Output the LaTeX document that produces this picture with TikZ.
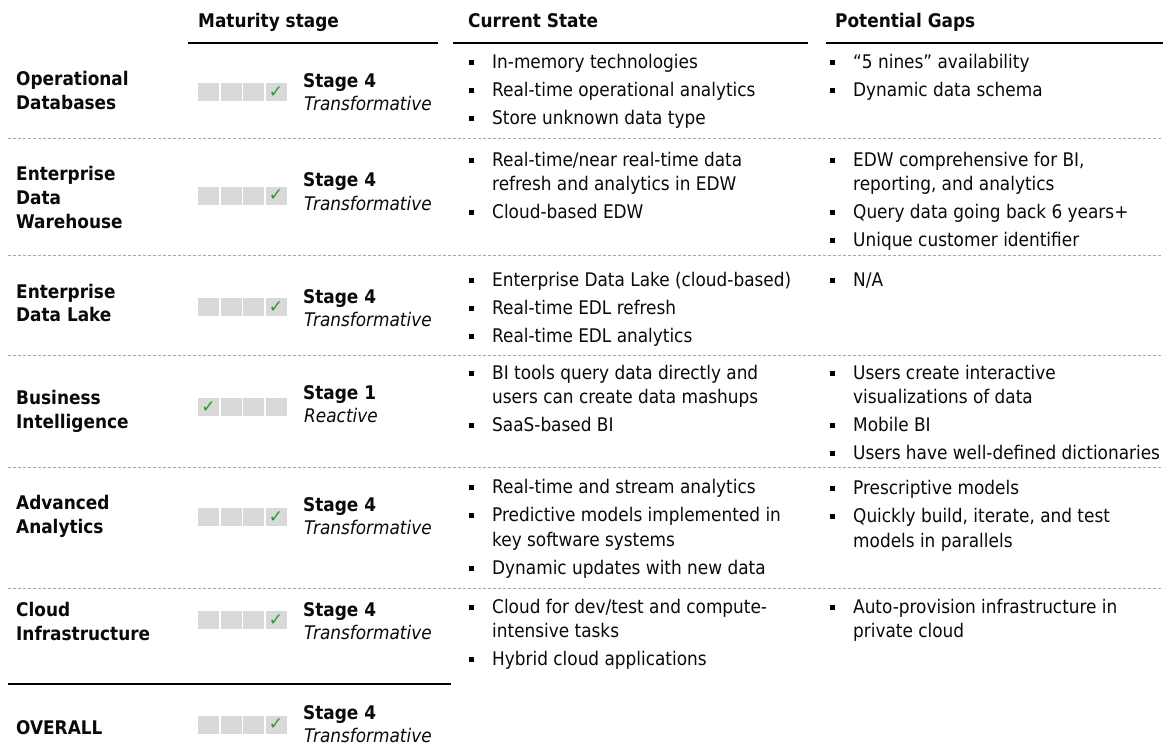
\documentclass[tikz,border=0pt]{standalone}
\usepackage{fontspec}
\setmainfont{DejaVu Sans Condensed}[BoldFont={DejaVu Sans Condensed Bold},ItalicFont={DejaVu Sans Condensed Oblique}]
\newfontfamily\symfont{DejaVu Sans}
\definecolor{sqgrey}{HTML}{D9D9D9}
\definecolor{chk}{HTML}{229A2E}
\definecolor{dashgrey}{HTML}{A6A6A6}
\definecolor{ink}{HTML}{0A0A0A}
\tikzset{
  txt/.style={anchor=base west, inner sep=0pt, text=ink, font=\fontsize{18.8}{22}\selectfont},
  boldtxt/.style={txt, font=\fontsize{18.8}{22}\selectfont\bfseries},
  italtxt/.style={txt, font=\fontsize{18.8}{22}\selectfont\itshape},
  bul/.style={fill=black, minimum size=5pt, inner sep=0pt},
  sqbox/.style={fill=sqgrey, minimum width=21pt, minimum height=18pt, inner sep=0pt, text=chk, font=\symfont\fontsize{17}{17}\selectfont},
  headrule/.style={line width=1.6pt, black},
  rowsep/.style={dashgrey, line width=0.9pt, dash pattern=on 3pt off 2pt},
}
\newcommand{\bitem}[4]{\node[bul] (#1b) at ({#2-21},{#3-6}) {}; \node[txt] (#1) at (#2,#3) {#4};}
\newcommand{\stagebar}[3]{%
  \foreach \i/\xx in {1/208.5,2/231,3/253.5,4/276} {\node[sqbox] (#1\i) at (\xx,#2) {\ifnum\i=#3 ✓\fi};}%
}
\begin{document}
\begin{tikzpicture}[x=1pt,y=-1pt]
\useasboundingbox[fill=white] (0,0) rectangle (1172,748);

% headers
\node[boldtxt] (hms) at (198,27) {Maturity stage};
\node[boldtxt] (hcs) at (468,27) {Current State};
\node[boldtxt] (hpg) at (835,27) {Potential Gaps};
\coordinate (hm1) at (188,43); \coordinate (hm2) at (438,43);
\coordinate (hc1) at (453,43); \coordinate (hc2) at (808,43);
\coordinate (hp1) at (826,43); \coordinate (hp2) at (1163,43);
\draw[headrule] (hm1) -- (hm2);
\draw[headrule] (hc1) -- (hc2);
\draw[headrule] (hp1) -- (hp2);

% separators
\foreach \yy/\nm in {138/a,255/b,355/c,467/d,588/e} {
  \coordinate (s\nm1) at (8,\yy); \coordinate (s\nm2) at (1163,\yy);
  \draw[rowsep] (s\nm1) -- (s\nm2);
}
\coordinate (ov1) at (8,684); \coordinate (ov2) at (451,684);
\draw[headrule] (ov1) -- (ov2);

% row labels
\node[boldtxt] (l1a) at (16,85) {Operational};
\node[boldtxt] (l1b) at (16,109) {Databases};
\node[boldtxt] (l2a) at (16,180) {Enterprise};
\node[boldtxt] (l2b) at (16,204) {Data};
\node[boldtxt] (l2c) at (16,228) {Warehouse};
\node[boldtxt] (l3a) at (16,298) {Enterprise};
\node[boldtxt] (l3b) at (16,321) {Data Lake};
\node[boldtxt] (l4a) at (16,404) {Business};
\node[boldtxt] (l4b) at (16,428) {Intelligence};
\node[boldtxt] (l5a) at (16,509) {Advanced};
\node[boldtxt] (l5b) at (16,533) {Analytics};
\node[boldtxt] (l6a) at (16,616) {Cloud};
\node[boldtxt] (l6b) at (16,640) {Infrastructure};
\node[boldtxt] (l7a) at (16,734) {OVERALL};

% maturity bars and stages
\stagebar{q1}{92}{4}
\node[boldtxt] (st1) at (303,87) {Stage 4};
\node[italtxt] (tr1) at (304,110) {Transformative};
\stagebar{q2}{195.5}{4}
\node[boldtxt] (st2) at (303,186) {Stage 4};
\node[italtxt] (tr2) at (304,210) {Transformative};
\stagebar{q3}{307}{4}
\node[boldtxt] (st3) at (303,303) {Stage 4};
\node[italtxt] (tr3) at (304,326) {Transformative};
\stagebar{q4}{407}{1}
\node[boldtxt] (st4) at (303,399) {Stage 1};
\node[italtxt] (tr4) at (304,422) {Reactive};
\stagebar{q5}{517}{4}
\node[boldtxt] (st5) at (303,511) {Stage 4};
\node[italtxt] (tr5) at (304,534) {Transformative};
\stagebar{q6}{620}{4}
\node[boldtxt] (st6) at (303,616) {Stage 4};
\node[italtxt] (tr6) at (304,639) {Transformative};
\stagebar{q7}{724.5}{4}
\node[boldtxt] (st7) at (303,719) {Stage 4};
\node[italtxt] (tr7) at (304,742) {Transformative};

% current state
\bitem{c11}{492}{68}{In-memory technologies}
\bitem{c12}{492}{96}{Real-time operational analytics}
\bitem{c13}{492}{124}{Store unknown data type}
\bitem{c21}{492}{166}{Real-time/near real-time data}
\node[txt] (c21x) at (492,190) {refresh and analytics in EDW};
\bitem{c22}{492}{218}{Cloud-based EDW}
\bitem{c31}{492}{286}{Enterprise Data Lake (cloud-based)}
\bitem{c32}{492}{314}{Real-time EDL refresh}
\bitem{c33}{492}{342}{Real-time EDL analytics}
\bitem{c41}{492}{379}{BI tools query data directly and}
\node[txt] (c41x) at (492,403) {users can create data mashups};
\bitem{c42}{492}{431}{SaaS-based BI}
\bitem{c51}{492}{493}{Real-time and stream analytics}
\bitem{c52}{492}{521}{Predictive models implemented in}
\node[txt] (c52x) at (492,546) {key software systems};
\bitem{c53}{492}{574}{Dynamic updates with new data}
\bitem{c61}{492}{613}{Cloud for dev/test and compute-}
\node[txt] (c61x) at (492,637) {intensive tasks};
\bitem{c62}{492}{665}{Hybrid cloud applications}

% potential gaps
\bitem{p11}{853}{68}{“5 nines” availability}
\bitem{p12}{853}{96}{Dynamic data schema}
\bitem{p21}{853}{166}{EDW comprehensive for BI,}
\node[txt] (p21x) at (853,190) {reporting, and analytics};
\bitem{p22}{853}{218}{Query data going back 6 years+}
\bitem{p23}{853}{246}{Unique customer identifier}
\bitem{p31}{853}{286}{N/A}
\bitem{p41}{853}{379}{Users create interactive}
\node[txt] (p41x) at (853,403) {visualizations of data};
\bitem{p42}{853}{431}{Mobile BI}
\bitem{p43}{853}{459}{Users have well-defined dictionaries}
\bitem{p51}{853}{494}{Prescriptive models}
\bitem{p52}{853}{522}{Quickly build, iterate, and test}
\node[txt] (p52x) at (853,547) {models in parallels};
\bitem{p61}{853}{613}{Auto-provision infrastructure in}
\node[txt] (p61x) at (853,637) {private cloud};
\end{tikzpicture}
\end{document}
